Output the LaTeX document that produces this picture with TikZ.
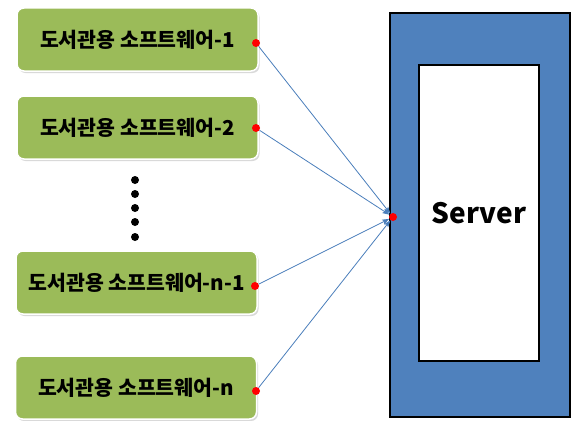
\documentclass[tikz,border=0pt]{standalone}
\usepackage{fontspec}
\setmainfont{Noto Sans CJK KR}
\usetikzlibrary{arrows.meta,shadows}
\definecolor{boxgreen}{HTML}{9BBB59}
\definecolor{srvblue}{HTML}{4F81BD}
\definecolor{linkblue}{HTML}{4A7EBB}
\begin{document}
\begin{tikzpicture}[x=1pt,y=-1pt,
  swbox/.style={rectangle, rounded corners=7pt, fill=boxgreen, draw=white,
    line width=1.5pt, inner sep=0pt, minimum width=241pt, minimum height=63pt,
    drop shadow={shadow xshift=1.5pt, shadow yshift=-2pt, opacity=0.3},
    font=\bfseries\fontsize{20.5}{24}\selectfont},
  reddot/.style={circle, fill=red, inner sep=0pt, minimum size=8pt},
  blackdot/.style={circle, fill=black, inner sep=0pt, minimum size=8pt},
  link/.style={draw=linkblue, line width=0.8pt, -{Stealth[length=7pt,width=5pt,inset=1.5pt]}},
  frame/.style={draw=black, line width=2.5pt}
]
\useasboundingbox (0,0) rectangle (572,420);

% client boxes
\node[swbox] (b1) at (137.5,39.5) {도서관용 소프트웨어-1};
\node[swbox] (b2) at (137.5,127.5) {도서관용 소프트웨어-2};
\node[swbox] (b3) at (136.5,282.5) {도서관용 소프트웨어-n-1};
\node[swbox] (b4) at (136,387.5) {도서관용 소프트웨어-n};

% vertical ellipsis
\foreach \yy [count=\i] in {180,194,208,222,237}
  \node[blackdot] (e\i) at (135,\yy) {};

% server
\node[frame, fill=srvblue, minimum width=180pt, minimum height=404pt] (srv) at (480,215) {};
\node[frame, fill=white, minimum width=120pt, minimum height=296pt,
  font=\bfseries\fontsize{28}{33}\selectfont] (core) at (479,213) {Server};

% connection points
\node[reddot] (d1) at (256,43) {};
\node[reddot] (d2) at (256,128) {};
\node[reddot] (d3) at (255,286) {};
\node[reddot] (d4) at (256,391) {};
\node[reddot] (sd) at (393,217) {};

\foreach \i in {1,...,4}
  \draw[link] (d\i) -- (sd);
\end{tikzpicture}
\end{document}
